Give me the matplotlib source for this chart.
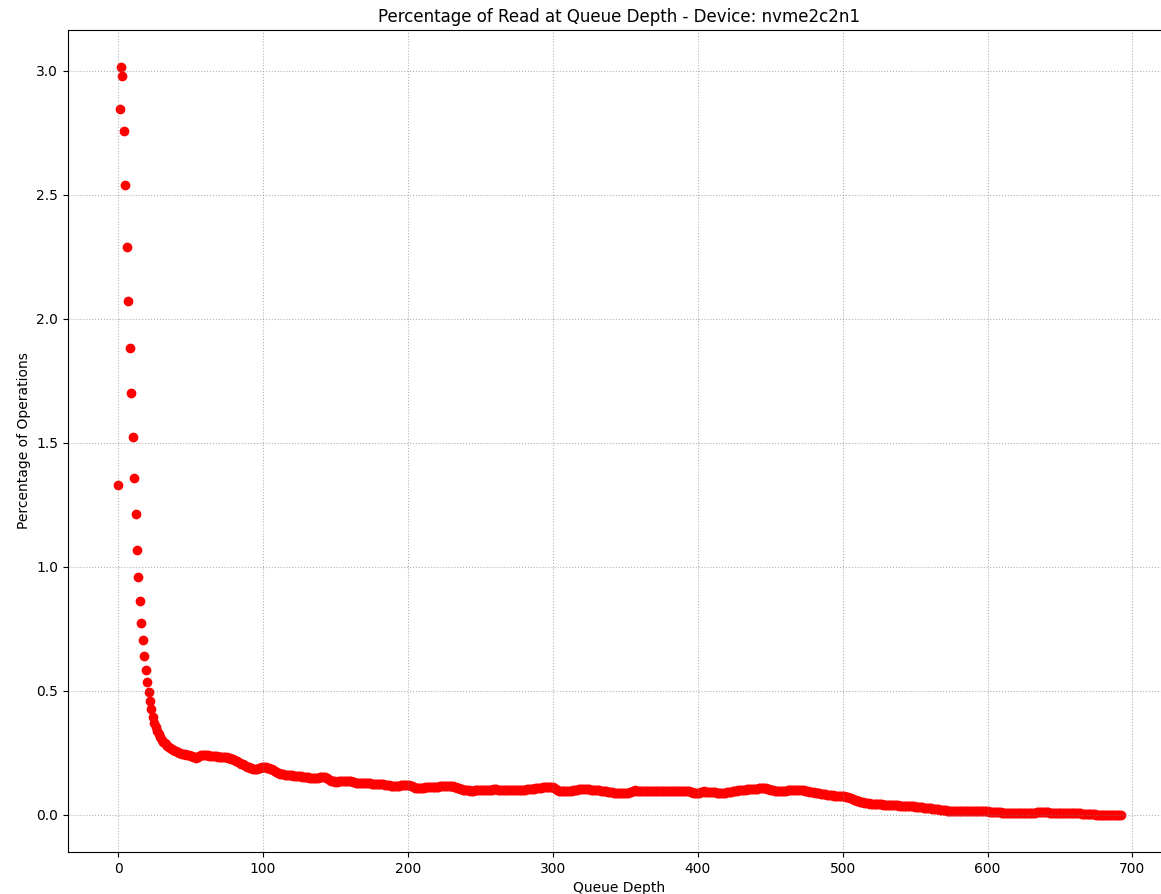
import matplotlib
matplotlib.use("Agg")
import matplotlib.pyplot as plt
import numpy as np

device = "nvme2c2n1"

# percentage of read operations seen at each queue depth (0, 1, 2, ...)
read_pct = [
    1.328, 2.846, 3.013, 2.979, 2.757, 2.538, 2.290, 2.071, 1.880, 1.700,
    1.523, 1.359, 1.214, 1.069, 0.958, 0.861, 0.774, 0.704, 0.639, 0.585,
    0.533, 0.495, 0.460, 0.427, 0.395, 0.368, 0.352, 0.338, 0.325, 0.312,
    0.302, 0.294, 0.288, 0.283, 0.278, 0.272, 0.268, 0.265, 0.261, 0.258,
    0.255, 0.252, 0.250, 0.248, 0.246, 0.244, 0.243, 0.241, 0.240, 0.239,
    0.238, 0.236, 0.234, 0.231, 0.228, 0.233, 0.237, 0.239, 0.240, 0.239,
    0.240, 0.241, 0.240, 0.238, 0.238, 0.237, 0.236, 0.236, 0.235, 0.234,
    0.234, 0.233, 0.233, 0.232, 0.231, 0.231, 0.229, 0.228, 0.226, 0.224,
    0.221, 0.218, 0.215, 0.212, 0.209, 0.206, 0.203, 0.200, 0.197, 0.194,
    0.192, 0.190, 0.188, 0.186, 0.185, 0.184, 0.186, 0.188, 0.190, 0.192,
    0.194, 0.193, 0.192, 0.190, 0.188, 0.186, 0.184, 0.181, 0.177, 0.173,
    0.169, 0.166, 0.164, 0.163, 0.162, 0.161, 0.160, 0.160, 0.159, 0.158,
    0.158, 0.157, 0.157, 0.156, 0.156, 0.155, 0.154, 0.153, 0.152, 0.151,
    0.150, 0.150, 0.149, 0.148, 0.148, 0.147, 0.147, 0.148, 0.149, 0.150,
    0.151, 0.152, 0.153, 0.152, 0.149, 0.145, 0.141, 0.137, 0.135, 0.134,
    0.133, 0.133, 0.134, 0.135, 0.136, 0.136, 0.137, 0.137, 0.137, 0.137,
    0.136, 0.134, 0.132, 0.130, 0.129, 0.128, 0.128, 0.128, 0.128, 0.128,
    0.127, 0.127, 0.126, 0.126, 0.126, 0.125, 0.125, 0.125, 0.124, 0.124,
    0.124, 0.124, 0.123, 0.122, 0.121, 0.120, 0.119, 0.118, 0.117, 0.116,
    0.115, 0.115, 0.115, 0.116, 0.117, 0.118, 0.118, 0.119, 0.120, 0.120,
    0.120, 0.119, 0.117, 0.114, 0.111, 0.109, 0.107, 0.106, 0.106, 0.107,
    0.108, 0.109, 0.110, 0.110, 0.110, 0.110, 0.110, 0.110, 0.110, 0.111,
    0.112, 0.113, 0.114, 0.115, 0.116, 0.117, 0.117, 0.117, 0.117, 0.116,
    0.115, 0.114, 0.112, 0.110, 0.108, 0.106, 0.104, 0.102, 0.101, 0.100,
    0.099, 0.098, 0.098, 0.097, 0.097, 0.097, 0.098, 0.098, 0.099, 0.099,
    0.099, 0.100, 0.100, 0.101, 0.101, 0.101, 0.100, 0.100, 0.101, 0.102,
    0.103, 0.102, 0.101, 0.100, 0.100, 0.101, 0.101, 0.101, 0.101, 0.100,
    0.100, 0.101, 0.101, 0.100, 0.099, 0.099, 0.100, 0.100, 0.100, 0.100,
    0.101, 0.101, 0.102, 0.103, 0.104, 0.104, 0.105, 0.105, 0.106, 0.106,
    0.107, 0.108, 0.109, 0.110, 0.111, 0.112, 0.113, 0.113, 0.112, 0.113,
    0.112, 0.108, 0.104, 0.100, 0.097, 0.096, 0.095, 0.095, 0.094, 0.094,
    0.094, 0.095, 0.096, 0.097, 0.098, 0.099, 0.100, 0.101, 0.102, 0.103,
    0.103, 0.104, 0.104, 0.104, 0.103, 0.102, 0.101, 0.100, 0.100, 0.100,
    0.099, 0.098, 0.098, 0.097, 0.097, 0.096, 0.095, 0.094, 0.093, 0.092,
    0.091, 0.090, 0.089, 0.088, 0.088, 0.087, 0.087, 0.086, 0.086, 0.086,
    0.086, 0.087, 0.088, 0.090, 0.093, 0.095, 0.097, 0.098, 0.097, 0.096,
    0.095, 0.095, 0.094, 0.094, 0.094, 0.095, 0.095, 0.096, 0.096, 0.095,
    0.095, 0.094, 0.094, 0.094, 0.095, 0.095, 0.094, 0.094, 0.095, 0.096,
    0.096, 0.095, 0.095, 0.094, 0.094, 0.094, 0.095, 0.095, 0.094, 0.094,
    0.094, 0.095, 0.095, 0.096, 0.095, 0.093, 0.091, 0.089, 0.088, 0.088,
    0.088, 0.089, 0.091, 0.093, 0.094, 0.093, 0.092, 0.092, 0.093, 0.093,
    0.092, 0.091, 0.090, 0.089, 0.088, 0.087, 0.087, 0.087, 0.088, 0.089,
    0.090, 0.091, 0.092, 0.093, 0.094, 0.095, 0.096, 0.097, 0.098, 0.099,
    0.100, 0.100, 0.101, 0.101, 0.102, 0.102, 0.102, 0.103, 0.103, 0.104,
    0.104, 0.105, 0.106, 0.107, 0.108, 0.109, 0.108, 0.106, 0.104, 0.102,
    0.100, 0.099, 0.098, 0.097, 0.096, 0.095, 0.094, 0.094, 0.094, 0.095,
    0.096, 0.097, 0.098, 0.099, 0.100, 0.100, 0.101, 0.101, 0.101, 0.101,
    0.101, 0.100, 0.099, 0.098, 0.096, 0.095, 0.094, 0.093, 0.092, 0.091,
    0.090, 0.089, 0.088, 0.087, 0.086, 0.085, 0.084, 0.083, 0.082, 0.081,
    0.080, 0.079, 0.078, 0.078, 0.077, 0.077, 0.077, 0.076, 0.076, 0.075,
    0.075, 0.074, 0.073, 0.072, 0.070, 0.068, 0.066, 0.063, 0.060, 0.058,
    0.056, 0.054, 0.052, 0.050, 0.049, 0.048, 0.047, 0.046, 0.045, 0.044,
    0.043, 0.043, 0.043, 0.044, 0.044, 0.043, 0.042, 0.041, 0.040, 0.040,
    0.039, 0.039, 0.039, 0.039, 0.038, 0.038, 0.038, 0.037, 0.037, 0.036,
    0.036, 0.036, 0.036, 0.035, 0.035, 0.035, 0.034, 0.034, 0.033, 0.033,
    0.032, 0.032, 0.031, 0.031, 0.030, 0.029, 0.028, 0.027, 0.027, 0.026,
    0.025, 0.025, 0.024, 0.023, 0.023, 0.022, 0.021, 0.020, 0.019, 0.018,
    0.018, 0.017, 0.016, 0.016, 0.015, 0.015, 0.014, 0.014, 0.014, 0.013,
    0.013, 0.013, 0.013, 0.013, 0.013, 0.013, 0.013, 0.013, 0.013, 0.013,
    0.013, 0.013, 0.013, 0.013, 0.013, 0.013, 0.013, 0.013, 0.013, 0.013,
    0.013, 0.012, 0.012, 0.011, 0.011, 0.010, 0.010, 0.009, 0.009, 0.009,
    0.008, 0.008, 0.008, 0.008, 0.008, 0.008, 0.007, 0.007, 0.007, 0.007,
    0.007, 0.007, 0.007, 0.007, 0.007, 0.006, 0.006, 0.006, 0.005, 0.005,
    0.005, 0.006, 0.007, 0.008, 0.009, 0.010, 0.010, 0.011, 0.011, 0.011,
    0.011, 0.010, 0.009, 0.008, 0.008, 0.008, 0.008, 0.008, 0.008, 0.007,
    0.007, 0.007, 0.007, 0.007, 0.007, 0.007, 0.007, 0.006, 0.006, 0.006,
    0.006, 0.006, 0.005, 0.005, 0.005, 0.004, 0.004, 0.003, 0.003, 0.002,
    0.002, 0.001, 0.001, 0.001, 0.001, 0.000, 0.000, 0.000, 0.000, 0.000,
    0.000, 0.000, 0.000, 0.000, 0.000, 0.000, 0.000, 0.000, 0.000, 0.000,
    0.000, 0.000, 0.000,
]
queue_depth = np.arange(len(read_pct))

fig = plt.figure(figsize=(11.61, 8.94), dpi=100)
# axes run past the right edge, like the cropped original
ax = fig.add_axes([68 / 1161, 42 / 894, 1103 / 1161, 822 / 894])

ax.scatter(queue_depth, read_pct, color="red")
ax.set_title(f"Percentage of Read at Queue Depth - Device: {device}")
ax.set_xlabel("Queue Depth")
ax.set_ylabel("Percentage of Operations")
ax.grid(True, linestyle=":", color="gray", alpha=0.6)

fig.savefig("out.png", dpi=100)
